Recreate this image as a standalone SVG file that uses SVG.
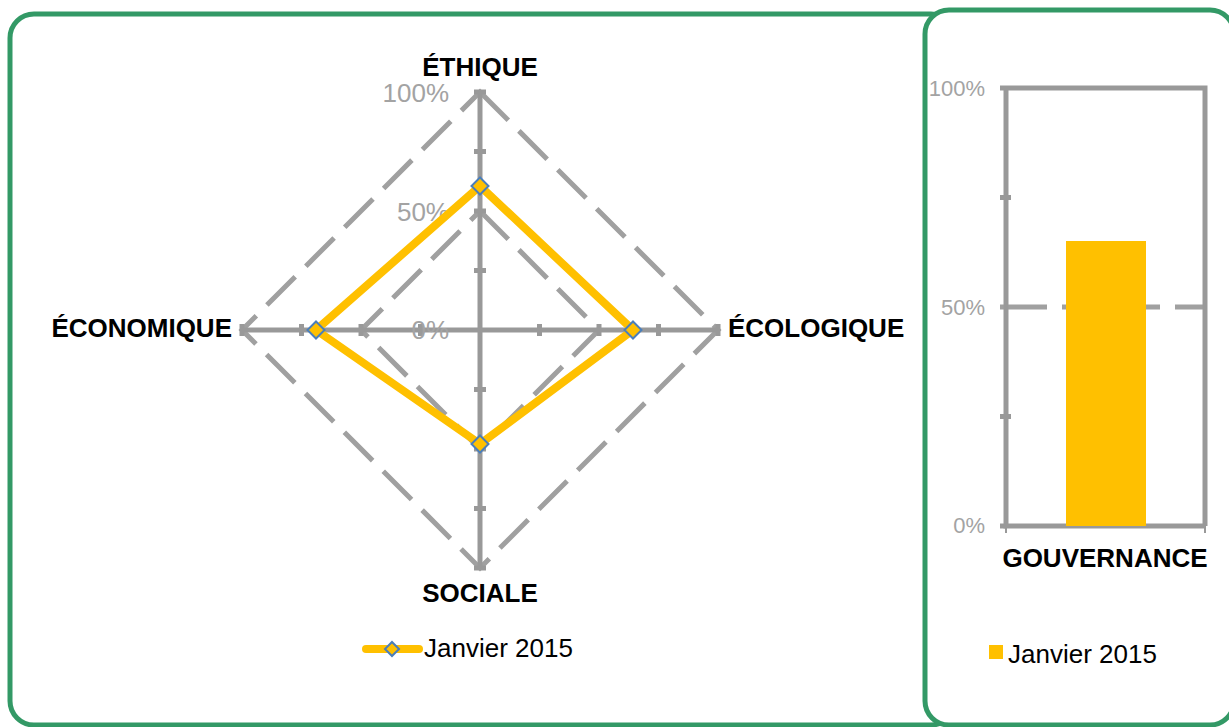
<svg xmlns="http://www.w3.org/2000/svg" width="1229" height="727" viewBox="0 0 1229 727">
<style>
.frame{fill:#fff;stroke:#339966;stroke-width:5}
.axis{stroke:#999;stroke-width:5;fill:none}
.tick{stroke:#999;stroke-width:5;fill:none}
.grid{stroke:#a0a0a0;stroke-width:5;fill:none;stroke-dasharray:40 15}
.series{stroke:#FFC000;stroke-width:8;fill:none;stroke-linejoin:round}
.mk{fill:#FFC000;stroke:#4a7ebb;stroke-width:2}
.cat{font-family:"Liberation Sans",Arial,sans-serif;font-size:26px;font-weight:bold;fill:#000}
.val{font-family:"Liberation Sans",Arial,sans-serif;font-size:26px;fill:#a3a3a3}
.val2{font-family:"Liberation Sans",Arial,sans-serif;font-size:22px;fill:#a3a3a3}
.leg{font-family:"Liberation Sans",Arial,sans-serif;font-size:26px;fill:#000}
</style>
<defs>
<path id="dia" d="M0,-8.5 L8.5,0 L0,8.5 L-8.5,0 Z"/>
<path id="dia-s" d="M0,-7 L7,0 L0,7 L-7,0 Z"/>
</defs>
<rect width="1229" height="727" fill="#fff"/>
<g id="radar-panel">
<rect class="frame" x="10" y="14" width="945" height="711" rx="24" ry="24"/>
</g>
<g id="bar-panel">
<rect class="frame" x="925" y="10" width="309" height="715" rx="24" ry="24"/>
</g>
<g id="radar-grid">
<path class="grid" d="M480,92 L718,330 L480,568 L242,330 Z"/>
<path class="grid" d="M480,211 L599,330 L480,449 L361,330 Z"/>
</g>
<g id="radar-axes">
<path class="axis" d="M480,92 V568 M242,330 H718"/>
<path class="tick" d="M474,92 H486 M474,151.5 H486 M474,211 H486 M474,270.5 H486 M474,389.5 H486 M474,449 H486 M474,508.5 H486 M474,568 H486"/>
<path class="tick" d="M242,324 V336 M301.5,324 V336 M361,324 V336 M420.5,324 V336 M539.5,324 V336 M599,324 V336 M658.5,324 V336 M718,324 V336"/>
</g>
<g id="radar-values">
<text class="val" x="449" y="102" text-anchor="end">100%</text>
<text class="val" x="449" y="221" text-anchor="end">50%</text>
<text class="val" x="449" y="339" text-anchor="end">0%</text>
</g>
<g id="connectors">
<path class="series" d="M480,186 L633,330 L480,444 L316,330 Z"/>
</g>
<g id="markers">
<use href="#dia" class="mk" x="480" y="186"/>
<use href="#dia" class="mk" x="633" y="330"/>
<use href="#dia" class="mk" x="480" y="444"/>
<use href="#dia" class="mk" x="316" y="330"/>
</g>
<g id="node-ethique"><text class="cat" x="480" y="76" text-anchor="middle">ÉTHIQUE</text></g>
<g id="node-economique"><text class="cat" x="232" y="337" text-anchor="end">ÉCONOMIQUE</text></g>
<g id="node-ecologique"><text class="cat" x="728" y="337">ÉCOLOGIQUE</text></g>
<g id="node-sociale"><text class="cat" x="480" y="602" text-anchor="middle">SOCIALE</text></g>
<g id="radar-legend">
<line x1="366" y1="649" x2="419" y2="649" stroke="#FFC000" stroke-width="8" stroke-linecap="round"/>
<use href="#dia-s" class="mk" x="392" y="649"/>
<text class="leg" x="424" y="657">Janvier 2015</text>
</g>
<g id="bar-chart">
<path d="M1000,307 H1047 M1062,307 H1160 M1175,307 H1205" stroke="#a0a0a0" stroke-width="5" fill="none"/>
<path class="axis" d="M1000,88 H1205 V526 M1006,88 V526 H1205"/>
<path class="tick" d="M1000,197.5 H1011 M1000,416.5 H1011 M1000,526 H1006"/>
<path d="M1006,526 V533 M1205,526 V533" stroke="#999" stroke-width="2"/>
<rect id="bar-gouvernance" x="1066" y="241" width="80" height="285" fill="#FFC000"/>
<text class="val2" x="985" y="96" text-anchor="end">100%</text>
<text class="val2" x="985" y="315" text-anchor="end">50%</text>
<text class="val2" x="985" y="533" text-anchor="end">0%</text>
</g>
<g id="node-gouvernance"><text class="cat" x="1105" y="567" text-anchor="middle">GOUVERNANCE</text></g>
<g id="bar-legend">
<rect x="989" y="645" width="14" height="14" fill="#FFC000"/>
<text class="leg" x="1008" y="663">Janvier 2015</text>
</g>
</svg>
